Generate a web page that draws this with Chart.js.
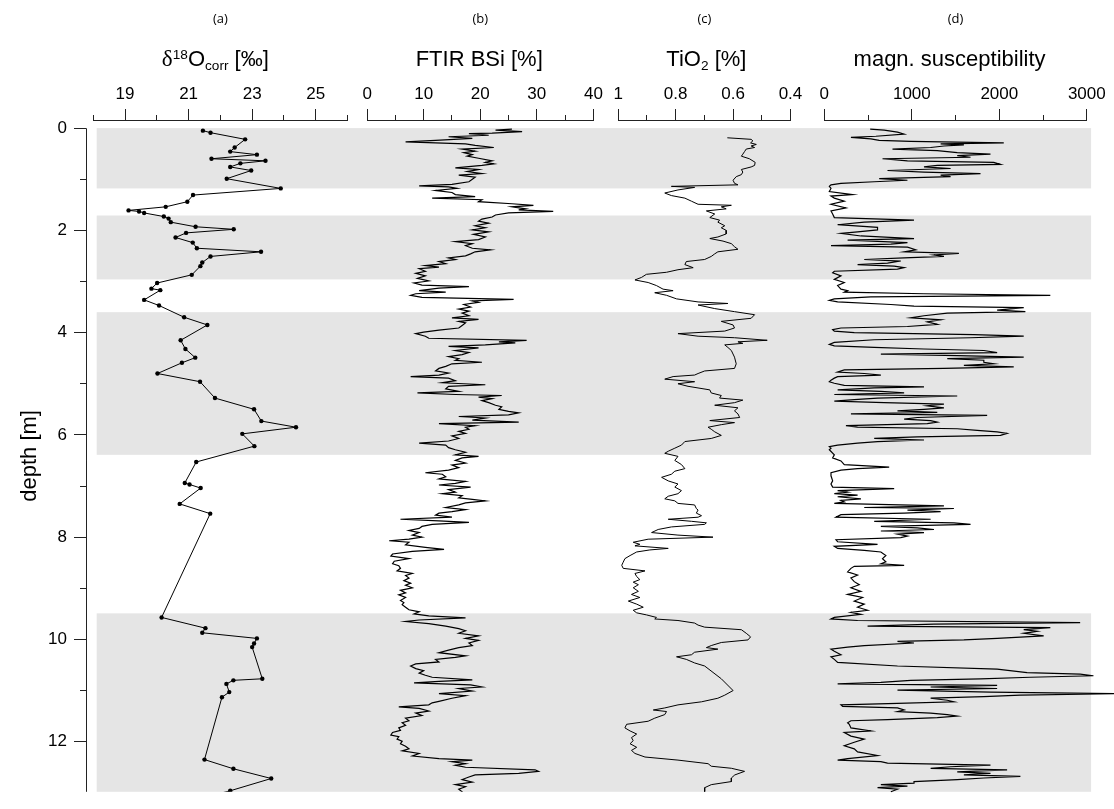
<!DOCTYPE html>
<html>
<head>
<meta charset="utf-8">
<script src="https://cdn.jsdelivr.net/npm/chart.js@4.4.1/dist/chart.umd.min.js"></script>
<style>
html,body{margin:0;padding:0;background:#fff;overflow:hidden;width:1114px;height:809px;}
#wrap{position:absolute;left:0;top:0;width:1114px;height:809px;}
.pl{position:absolute;top:18px;transform:translate(-50%,-50%);font-family:'Open Sans',sans-serif;font-size:13px;color:#000;white-space:nowrap;line-height:1;}
.pt{position:absolute;top:59px;transform:translate(-50%,-50%);font-family:'Liberation Sans',Arial,sans-serif;font-size:22px;color:#000;white-space:nowrap;line-height:1;}
.pt .sp{position:relative;top:-0.5em;font-size:0.62em;}
.pt .sb{position:relative;top:0.32em;font-size:0.62em;}
.pt .dl{font-family:'Liberation Serif',serif;font-size:1.05em;}
</style>
</head>
<body>
<div id="wrap"><canvas id="c"></canvas></div>
<div class="pl" id="lab0">(a)</div>
<div class="pl" id="lab1">(b)</div>
<div class="pl" id="lab2">(c)</div>
<div class="pl" id="lab3">(d)</div>
<div class="pt" id="ttl0"><span class="dl">δ</span><span class="sp">18</span>O<span class="sb">corr</span> [‰]</div>
<div class="pt" id="ttl1">FTIR BSi [%]</div>
<div class="pt" id="ttl2">TiO<span class="sb">2</span> [%]</div>
<div class="pt" id="ttl3">magn. susceptibility</div>
<script>
// ---------------- data ----------------
const panelLetters = ['(a)', '(b)', '(c)', '(d)'];
const yLabel = 'depth [m]';

// gray intervals (depth, m)
const bandTop = [0, 1.71, 3.60, 9.49];
const bandBottom = [1.18, 2.96, 6.39, 13.5];

// axis tick values
const ticksA = [19, 21, 23, 25];
const ticksB = [0, 10, 20, 30, 40];
const ticksC = [1, 0.8, 0.6, 0.4];
const ticksD = [0, 1000, 2000, 3000];
const ticksDepth = [0, 2, 4, 6, 8, 10, 12];

// (a) delta18O corr
const depthA = [0.05,0.09,0.22,0.38,0.46,0.52,0.60,0.64,0.69,0.76,
 0.83,0.99,1.18,1.31,1.44,1.54,1.61,1.63,1.66,1.73,
 1.77,1.84,1.93,1.98,2.05,2.14,2.24,2.35,2.42,2.51,
 2.63,2.70,2.87,3.03,3.14,3.17,3.36,3.47,3.70,3.85,
 4.15,4.32,4.49,4.59,4.80,4.96,5.28,5.50,5.73,5.85,
 5.98,6.22,6.53,6.94,6.97,7.04,7.35,7.54,9.57,9.78,
 9.87,9.98,10.08,10.15,10.77,10.80,10.87,11.03,11.13,12.35,
 12.53,12.72,12.96,13.1];
const valA = [21.45,21.69,22.78,22.45,22.31,23.15,21.72,23.42,22.63,22.31,
 22.97,22.20,23.90,21.14,20.96,20.28,19.11,19.44,19.60,20.22,
 20.37,20.44,21.22,22.42,20.92,20.59,21.13,21.26,23.28,21.69,
 21.43,21.37,21.10,20.01,19.83,20.11,19.60,20.07,20.86,21.59,
 20.75,20.90,21.21,20.79,20.02,21.36,21.83,23.06,23.29,24.38,
 22.69,23.07,21.24,20.88,21.03,21.38,20.72,21.68,20.15,21.53,
 21.43,23.15,23.06,23.00,23.32,22.41,22.19,22.28,22.05,21.50,
 22.41,23.60,22.31,21.4];

// (b) FTIR BSi
const depthB = [0.02,0.04,0.07,0.10,0.11,0.14,0.17,0.20,0.24,0.27,
 0.31,0.34,0.38,0.41,0.45,0.48,0.52,0.55,0.59,0.64,
 0.67,0.70,0.73,0.78,0.81,0.85,0.89,0.92,0.96,1.00,
 1.05,1.10,1.13,1.15,1.18,1.22,1.26,1.30,1.34,1.37,
 1.40,1.44,1.48,1.51,1.54,1.58,1.60,1.63,1.66,1.70,
 1.74,1.78,1.82,1.86,1.91,1.95,1.99,2.03,2.08,2.13,
 2.18,2.22,2.26,2.30,2.35,2.38,2.42,2.46,2.50,2.54,
 2.57,2.61,2.65,2.69,2.72,2.75,2.80,2.84,2.89,2.94,
 2.99,3.03,3.07,3.10,3.13,3.18,3.21,3.24,3.27,3.31,
 3.35,3.38,3.41,3.45,3.50,3.54,3.58,3.62,3.67,3.71,
 3.74,3.78,3.81,3.86,3.91,3.95,3.99,4.02,4.07,4.11,
 4.15,4.18,4.20,4.24,4.27,4.30,4.35,4.39,4.43,4.47,
 4.51,4.54,4.58,4.61,4.66,4.70,4.75,4.79,4.83,4.86,
 4.89,4.94,4.98,5.02,5.05,5.10,5.15,5.18,5.21,5.23,
 5.26,5.29,5.33,5.37,5.42,5.45,5.50,5.54,5.57,5.61,
 5.64,5.67,5.71,5.75,5.78,5.82,5.85,5.89,5.93,5.97,
 6.02,6.07,6.12,6.16,6.20,6.25,6.29,6.34,6.39,6.42,
 6.45,6.50,6.55,6.59,6.64,6.69,6.74,6.77,6.82,6.86,
 6.91,6.95,6.98,7.02,7.07,7.12,7.15,7.19,7.23,7.26,
 7.29,7.33,7.37,7.42,7.46,7.50,7.53,7.57,7.61,7.65,
 7.68,7.71,7.75,7.79,7.83,7.87,7.91,7.96,8.00,8.04,
 8.07,8.10,8.15,8.20,8.24,8.28,8.33,8.37,8.42,8.47,
 8.52,8.56,8.61,8.66,8.71,8.75,8.80,8.85,8.90,8.94,
 8.99,9.04,9.09,9.13,9.18,9.24,9.28,9.32,9.37,9.42,
 9.46,9.50,9.54,9.58,9.62,9.65,9.69,9.74,9.79,9.83,
 9.88,9.93,9.98,10.02,10.07,10.12,10.16,10.21,10.26,10.32,
 10.35,10.39,10.44,10.48,10.52,10.57,10.61,10.66,10.70,10.74,
 10.79,10.82,10.85,10.89,10.93,10.96,11.01,11.06,11.10,11.15,
 11.21,11.24,11.28,11.32,11.35,11.40,11.44,11.49,11.54,11.59,
 11.63,11.68,11.73,11.78,11.82,11.87,11.90,11.95,11.99,12.04,
 12.09,12.14,12.18,12.23,12.28,12.33,12.36,12.39,12.43,12.46,
 12.50,12.55,12.58,12.62,12.65,12.69,12.74,12.79,12.84,12.88,
 12.93,12.98,13.06];
const valB = [25.6,22.7,27.4,22.1,18.0,21.5,14.4,18.6,12.1,6.8,
 17.4,19.1,22.4,16.8,19.1,17.1,18.6,17.7,19.7,22.1,
 20.9,22.4,20.3,15.6,19.7,17.7,20.3,16.2,19.1,18.6,
 18.0,15.0,9.2,14.4,15.9,12.1,15.0,15.6,19.1,11.5,
 20.3,19.7,25.6,29.4,25.6,28.0,26.8,32.9,25.0,22.7,
 22.1,20.3,19.7,21.5,19.1,20.9,18.6,21.5,18.8,20.9,
 19.7,15.6,18.6,17.4,18.6,21.8,19.1,18.3,17.4,14.4,
 15.6,12.7,13.9,10.3,12.7,9.2,10.3,8.6,10.3,8.9,
 10.9,8.3,9.7,18.0,12.7,9.2,13.9,8.6,7.7,9.7,
 25.9,18.6,19.7,17.1,18.3,16.2,18.0,16.8,18.0,15.0,
 19.7,16.2,17.4,16.8,16.2,12.7,10.0,8.6,10.3,10.9,
 28.2,23.3,26.2,20.9,14.4,19.7,15.6,18.0,16.8,14.4,
 16.2,15.6,20.3,15.0,13.9,12.7,12.1,14.4,12.7,7.7,
 14.4,15.6,13.3,20.9,14.4,13.9,16.2,8.9,15.6,23.8,
 19.7,22.1,20.3,21.5,22.7,23.8,23.3,25.0,26.8,25.0,
 16.2,20.9,18.6,26.8,12.7,19.1,17.4,18.0,16.2,17.4,
 15.0,16.2,14.4,9.2,13.9,14.4,15.6,17.4,15.6,19.7,
 16.8,15.6,17.4,15.0,16.2,14.4,10.3,13.3,13.9,12.7,
 17.4,15.6,12.7,18.3,14.4,15.6,13.3,16.8,16.2,18.6,
 20.9,17.4,16.2,13.9,17.4,15.0,12.7,12.1,15.0,5.9,
 12.7,18.0,11.5,9.7,9.2,7.4,9.2,8.0,9.7,7.4,
 3.9,7.4,6.8,10.3,13.6,8.0,4.5,4.2,7.4,4.8,
 4.5,5.6,5.9,5.3,8.0,6.8,7.4,6.5,7.7,6.8,
 8.0,5.9,6.8,5.6,6.8,5.9,6.5,6.2,6.8,7.4,
 9.2,8.3,10.9,17.4,9.2,6.8,10.9,13.9,16.2,17.4,
 16.2,19.7,17.4,19.7,18.0,18.6,16.2,14.4,12.7,17.4,
 15.6,12.1,12.7,8.6,7.7,8.6,10.0,9.2,10.3,11.5,
 18.6,12.7,8.3,18.3,20.3,16.2,18.6,12.7,17.4,15.0,
 12.7,11.5,10.9,5.6,9.2,10.9,8.6,9.7,6.8,7.4,
 6.2,6.8,5.6,5.9,4.5,4.2,5.6,5.3,6.2,5.9,
 6.8,7.4,6.2,9.2,8.0,12.7,18.6,15.0,17.4,15.6,
 17.4,29.7,30.3,26.8,19.1,18.0,16.8,18.6,15.6,17.4,
 16.2,16.8,16.2];

// (c) TiO2
const depthC = [0.19,0.22,0.25,0.29,0.32,0.35,0.38,0.41,0.46,0.51,
 0.55,0.60,0.67,0.73,0.76,0.81,0.86,0.91,0.95,1.02,
 1.08,1.11,1.14,1.16,1.21,1.27,1.32,1.37,1.43,1.49,
 1.51,1.54,1.58,1.62,1.68,1.75,1.80,1.84,1.91,1.95,
 2.00,2.07,2.13,2.16,2.21,2.26,2.32,2.37,2.42,2.46,
 2.51,2.57,2.61,2.67,2.73,2.77,2.82,2.86,2.92,2.97,
 3.02,3.08,3.15,3.18,3.22,3.27,3.34,3.40,3.43,3.46,
 3.53,3.59,3.65,3.72,3.78,3.85,3.91,3.97,4.02,4.07,
 4.10,4.15,4.18,4.21,4.24,4.29,4.35,4.48,4.61,4.70,
 4.75,4.80,4.83,4.86,4.91,4.96,5.00,5.05,5.12,5.18,
 5.23,5.28,5.32,5.37,5.42,5.47,5.53,5.59,5.66,5.72,
 5.76,5.80,5.85,5.89,5.94,6.01,6.07,6.13,6.20,6.26,
 6.32,6.36,6.42,6.50,6.58,6.66,6.71,6.77,6.83,6.90,
 6.96,7.02,7.09,7.15,7.20,7.25,7.29,7.34,7.37,7.44,
 7.47,7.53,7.58,7.61,7.65,7.69,7.72,7.75,7.80,7.85,
 7.91,7.96,8.00,8.04,8.10,8.14,8.17,8.22,8.25,8.29,
 8.36,8.42,8.49,8.55,8.61,8.66,8.71,8.77,8.83,8.88,
 8.93,8.99,9.06,9.12,9.18,9.25,9.31,9.37,9.43,9.48,
 9.52,9.57,9.60,9.63,9.68,9.72,9.76,9.81,9.88,9.95,
 10.01,10.06,10.12,10.16,10.19,10.25,10.30,10.34,10.39,10.46,
 10.52,10.77,11.00,11.09,11.15,11.22,11.28,11.34,11.38,11.41,
 11.47,11.54,11.60,11.66,11.73,11.79,11.85,11.92,11.98,12.04,
 12.11,12.17,12.23,12.30,12.36,12.43,12.48,12.52,12.58,12.65,
 12.71,12.78,12.84,12.90,12.98];
const valC = [0.620,0.537,0.531,0.539,0.519,0.537,0.525,0.554,0.560,0.566,
 0.571,0.543,0.523,0.525,0.537,0.571,0.566,0.571,0.589,0.600,
 0.595,0.583,0.815,0.734,0.792,0.838,0.815,0.768,0.745,0.722,
 0.606,0.641,0.624,0.693,0.664,0.681,0.647,0.653,0.629,0.641,
 0.624,0.624,0.653,0.681,0.635,0.606,0.595,0.583,0.653,0.664,
 0.676,0.699,0.763,0.768,0.739,0.792,0.832,0.902,0.919,0.942,
 0.896,0.867,0.844,0.809,0.873,0.832,0.797,0.722,0.618,0.722,
 0.664,0.595,0.525,0.537,0.641,0.600,0.595,0.629,0.792,0.722,
 0.595,0.481,0.583,0.566,0.629,0.618,0.606,0.595,0.589,0.595,
 0.699,0.722,0.734,0.809,0.838,0.734,0.792,0.757,0.681,0.676,
 0.641,0.647,0.566,0.595,0.664,0.583,0.595,0.583,0.577,0.681,
 0.595,0.641,0.687,0.676,0.664,0.641,0.676,0.768,0.780,0.803,
 0.826,0.838,0.792,0.803,0.780,0.768,0.803,0.815,0.849,0.826,
 0.792,0.803,0.780,0.792,0.826,0.838,0.803,0.792,0.734,0.728,
 0.722,0.728,0.710,0.722,0.826,0.745,0.693,0.699,0.815,0.861,
 0.884,0.792,0.670,0.896,0.948,0.925,0.942,0.826,0.890,0.936,
 0.959,0.977,0.983,0.988,0.983,0.907,0.942,0.936,0.925,0.948,
 0.930,0.948,0.930,0.954,0.925,0.965,0.936,0.913,0.948,0.936,
 0.902,0.867,0.873,0.792,0.734,0.722,0.699,0.571,0.554,0.539,
 0.548,0.641,0.676,0.693,0.653,0.734,0.745,0.797,0.763,0.734,
 0.699,0.641,0.600,0.629,0.653,0.710,0.792,0.838,0.878,0.832,
 0.838,0.873,0.896,0.971,0.977,0.959,0.936,0.954,0.948,0.959,
 0.936,0.954,0.942,0.907,0.792,0.687,0.676,0.606,0.560,0.594,
 0.606,0.606,0.676,0.699,0.699];

// (d) magnetic susceptibility
const depthD = [0.02,0.04,0.08,0.12,0.16,0.18,0.21,0.24,0.26,0.29,
 0.31,0.33,0.35,0.38,0.41,0.44,0.48,0.51,0.54,0.57,
 0.60,0.64,0.67,0.71,0.73,0.76,0.79,0.83,0.86,0.89,
 0.92,0.95,0.99,1.02,1.05,1.08,1.11,1.14,1.18,1.24,
 1.30,1.33,1.37,1.43,1.49,1.56,1.62,1.68,1.75,1.80,
 1.84,1.89,1.94,1.99,2.03,2.06,2.11,2.16,2.19,2.24,
 2.27,2.30,2.33,2.38,2.42,2.45,2.48,2.51,2.54,2.57,
 2.60,2.64,2.67,2.70,2.73,2.76,2.80,2.83,2.89,2.96,
 3.02,3.08,3.15,3.18,3.21,3.24,3.27,3.30,3.34,3.37,
 3.40,3.45,3.48,3.51,3.56,3.59,3.62,3.67,3.71,3.75,
 3.79,3.84,3.88,3.91,3.94,3.97,4.00,4.04,4.07,4.10,
 4.14,4.19,4.23,4.26,4.29,4.32,4.35,4.39,4.42,4.45,
 4.48,4.51,4.54,4.58,4.61,4.64,4.67,4.70,4.73,4.77,
 4.80,4.83,4.86,4.89,4.93,4.96,4.99,5.03,5.06,5.08,
 5.12,5.15,5.18,5.21,5.24,5.28,5.31,5.34,5.37,5.40,
 5.43,5.47,5.50,5.53,5.56,5.59,5.62,5.66,5.69,5.72,
 5.75,5.78,5.82,5.85,5.88,5.91,5.94,5.97,6.01,6.04,
 6.07,6.10,6.13,6.16,6.20,6.23,6.26,6.29,6.39,6.45,
 6.51,6.58,6.63,6.66,6.69,6.74,6.80,6.90,6.96,7.02,
 7.05,7.09,7.12,7.15,7.18,7.21,7.25,7.28,7.31,7.34,
 7.39,7.42,7.44,7.47,7.50,7.53,7.56,7.61,7.65,7.69,
 7.72,7.75,7.79,7.82,7.85,7.88,7.91,7.94,7.98,8.01,
 8.05,8.09,8.14,8.18,8.22,8.26,8.29,8.36,8.42,8.48,
 8.52,8.55,8.57,8.61,8.68,8.74,8.80,8.87,8.93,8.99,
 9.06,9.12,9.18,9.25,9.31,9.37,9.43,9.47,9.51,9.57,
 9.60,9.63,9.67,9.70,9.74,9.77,9.81,9.84,9.88,9.93,
 9.98,10.01,10.04,10.07,10.12,10.15,10.19,10.23,10.30,10.34,
 10.39,10.45,10.52,10.58,10.65,10.68,10.71,10.74,10.77,10.80,
 10.84,10.87,10.90,10.93,10.96,10.99,11.03,11.06,11.09,11.12,
 11.15,11.19,11.22,11.25,11.28,11.31,11.34,11.38,11.41,11.44,
 11.47,11.50,11.53,11.57,11.59,11.63,11.66,11.73,11.79,11.82,
 11.89,11.95,12.01,12.08,12.14,12.20,12.27,12.33,12.36,12.39,
 12.42,12.46,12.49,12.52,12.55,12.59,12.62,12.65,12.68,12.71,
 12.74,12.78,12.81,12.84,12.87,12.90,12.93,12.98];
const valD = [524,684,836,912,589,304,532,627,987,2051,
 1329,1595,1367,1215,779,1291,1519,1899,1519,1671,
 665,950,1937,2013,1291,1139,1443,722,1139,1785,
 1329,1443,627,950,570,190,76,57,76,57,
 323,76,114,228,76,247,76,95,114,1025,
 456,152,608,608,380,190,418,1025,266,950,
 760,76,950,1044,912,1538,1253,1367,912,456,
 874,722,380,798,912,836,114,95,190,114,
 228,152,190,266,228,1139,2583,532,114,57,
 152,760,1025,2279,1975,2298,1405,1139,987,1329,
 1177,1291,950,190,95,114,342,1709,2279,1671,
 570,114,57,114,570,1139,1823,1975,646,1519,
 2279,1405,1823,1823,1937,1595,2165,1367,228,152,
 456,646,152,114,76,57,114,228,1139,570,
 152,646,912,114,1519,608,342,114,684,1367,
 1177,1367,1139,836,1291,304,1861,1063,912,1215,
 1291,1177,247,380,1519,1747,1975,2089,2013,1063,
 570,1139,608,380,152,57,76,57,114,95,
 190,228,741,380,190,76,76,95,76,95,
 798,152,266,114,380,152,418,190,228,114,
 1367,456,1481,950,1329,912,190,133,1215,570,
 1481,1671,646,1063,1253,646,1139,836,950,874,
 133,152,608,114,152,456,646,703,665,703,
 646,912,342,304,266,380,304,342,399,304,
 418,266,437,342,456,380,494,304,418,114,
 76,380,2924,1253,494,2583,2279,2431,2279,2507,
 1975,1595,836,1025,456,266,76,114,190,76,
 114,152,836,1975,2317,2924,3076,2355,1785,988,
 646,152,1975,1215,1975,836,1899,3400,2241,1823,
 1215,1405,1481,836,190,209,836,912,836,1215,
 1405,1519,1291,722,304,266,285,304,532,228,
 304,456,342,228,342,380,608,266,152,646,
 722,1899,1443,1215,2089,1519,1899,1595,2241,1823,
 1519,1025,1025,646,950,608,836,760];

// ---------------- chart ----------------
const pts = (ds, vs) => ds.map((d, i) => ({ x: vs[i], y: d }));
const near = (list, v) => list.some(m => Math.abs(m - v) < 1e-6);
const FONT = "'Liberation Sans', Arial, sans-serif";
const AXC = '#222';
const titleShift = [-5, -1, 2, -6];

function panelAxis(weight, min, max, step, majors, reverse) {
  return {
    type: 'linear', position: 'top', stack: 'top', stackWeight: weight,
    min: min, max: max, reverse: !!reverse,
    afterFit: s => { s.height = 40; },
    ticks: {
      stepSize: step, autoSkip: false, maxRotation: 0, minRotation: 0, padding: 4,
      color: '#000', font: { family: FONT, size: 17 },
      callback: v => near(majors, v) ? String(v) : ''
    },
    grid: {
      display: true, drawOnChartArea: false, tickLength: 11, lineWidth: 1,
      color: AXC, tickColor: AXC,
      tickBorderDash: c => (c.tick && near(majors, c.tick.value)) ? [] : [0, 6, 30]
    },
    border: { display: true, color: AXC, width: 1 }
  };
}
function gapAxis(weight) {
  return {
    type: 'linear', position: 'top', stack: 'top', stackWeight: weight,
    min: 0, max: 1, afterFit: s => { s.height = 40; },
    grid: { display: false }, ticks: { display: false }, border: { display: false }
  };
}

const bandPlugin = {
  id: 'bands',
  beforeDatasetsDraw(chart) {
    const { ctx, chartArea, scales } = chart;
    const y = scales.y;
    ctx.save();
    ctx.fillStyle = '#e5e5e5';
    const x0 = chartArea.left + 10.7, x1 = chartArea.right;
    for (let i = 0; i < bandTop.length; i++) {
      const t = Math.max(y.getPixelForValue(bandTop[i]), chartArea.top);
      const b = Math.min(y.getPixelForValue(bandBottom[i]), chartArea.bottom);
      ctx.fillRect(x0, t, x1 - x0, b - t);
    }
    ctx.restore();
  }
};

const titlePlugin = {
  id: 'titles',
  afterLayout(chart) {
    ['xa', 'xb', 'xc', 'xd'].forEach((id, i) => {
      const s = chart.scales[id];
      const cx = (s.left + s.right) / 2;
      document.getElementById('lab' + i).style.left = cx + 'px';
      document.getElementById('ttl' + i).style.left = (cx + titleShift[i]) + 'px';
    });
  }
};

// top axes are laid out right-to-left in definition order, so list them from the right
const scales = {
  xtrail: gapAxis(4.3),
  xd: panelAxis(263.3, 0, 3000, 500, ticksD),
  xg3: gapAxis(34),
  xc: panelAxis(172.7, 0.4, 1, 0.1, ticksC, true),
  xg2: gapAxis(25),
  xb: panelAxis(227, 0, 40, 5, ticksB),
  xg1: gapAxis(19.7),
  xa: panelAxis(255, 18, 26, 1, ticksA),
  xlead: {
    type: 'linear', position: 'top', stack: 'top', stackWeight: 7.3, min: 0, max: 1,
    afterFit: s => { s.height = 40; },
    afterBuildTicks: s => { s.ticks = [{ value: 0 }]; },
    ticks: { display: false },
    grid: { display: true, drawOnChartArea: true, drawTicks: false, color: AXC, lineWidth: 1 },
    border: { display: false, dash: [0, 8.3, 4000] }
  },
  y: {
    type: 'linear', position: 'left', reverse: true, min: -0.158, max: 12.98,
    afterFit: s => { s.width = 86; },
    ticks: {
      stepSize: 1, includeBounds: false, autoSkip: false, padding: 7,
      color: '#000', font: { family: FONT, size: 17 },
      callback: v => near(ticksDepth, v) ? String(v) : ''
    },
    grid: {
      display: true, drawOnChartArea: false, tickLength: 12, lineWidth: 1,
      color: AXC, tickColor: AXC,
      tickBorderDash: c => (c.tick && near(ticksDepth, c.tick.value)) ? [] : [0, 6, 30]
    },
    border: { display: false },
    title: { display: true, text: yLabel, color: '#000',
      font: { family: FONT, size: 22 }, padding: { top: 17, bottom: 0 } }
  }
};

new Chart(document.getElementById('c'), {
  type: 'scatter',
  data: {
    datasets: [
      { label: 'd18O', data: pts(depthA, valA), xAxisID: 'xa', yAxisID: 'y', showLine: true,
        borderColor: '#000', borderWidth: 1, pointRadius: 2.2, pointBackgroundColor: '#000',
        pointBorderWidth: 0, tension: 0 },
      { label: 'BSi', data: pts(depthB, valB), xAxisID: 'xb', yAxisID: 'y', showLine: true,
        borderColor: '#000', borderWidth: 1.2, pointRadius: 0, tension: 0 },
      { label: 'TiO2', data: pts(depthC, valC), xAxisID: 'xc', yAxisID: 'y', showLine: true,
        borderColor: '#000', borderWidth: 1, pointRadius: 0, tension: 0 },
      { label: 'MS', data: pts(depthD, valD), xAxisID: 'xd', yAxisID: 'y', showLine: true,
        borderColor: '#000', borderWidth: 1.2, pointRadius: 0, tension: 0, clip: false }
    ]
  },
  options: {
    responsive: true, maintainAspectRatio: false, animation: false, events: [],
    layout: { padding: { top: 80, right: 19.7, bottom: 0, left: 0 } },
    plugins: { legend: { display: false }, tooltip: { enabled: false } },
    scales: scales
  },
  plugins: [bandPlugin, titlePlugin]
});
</script>
</body>
</html>
